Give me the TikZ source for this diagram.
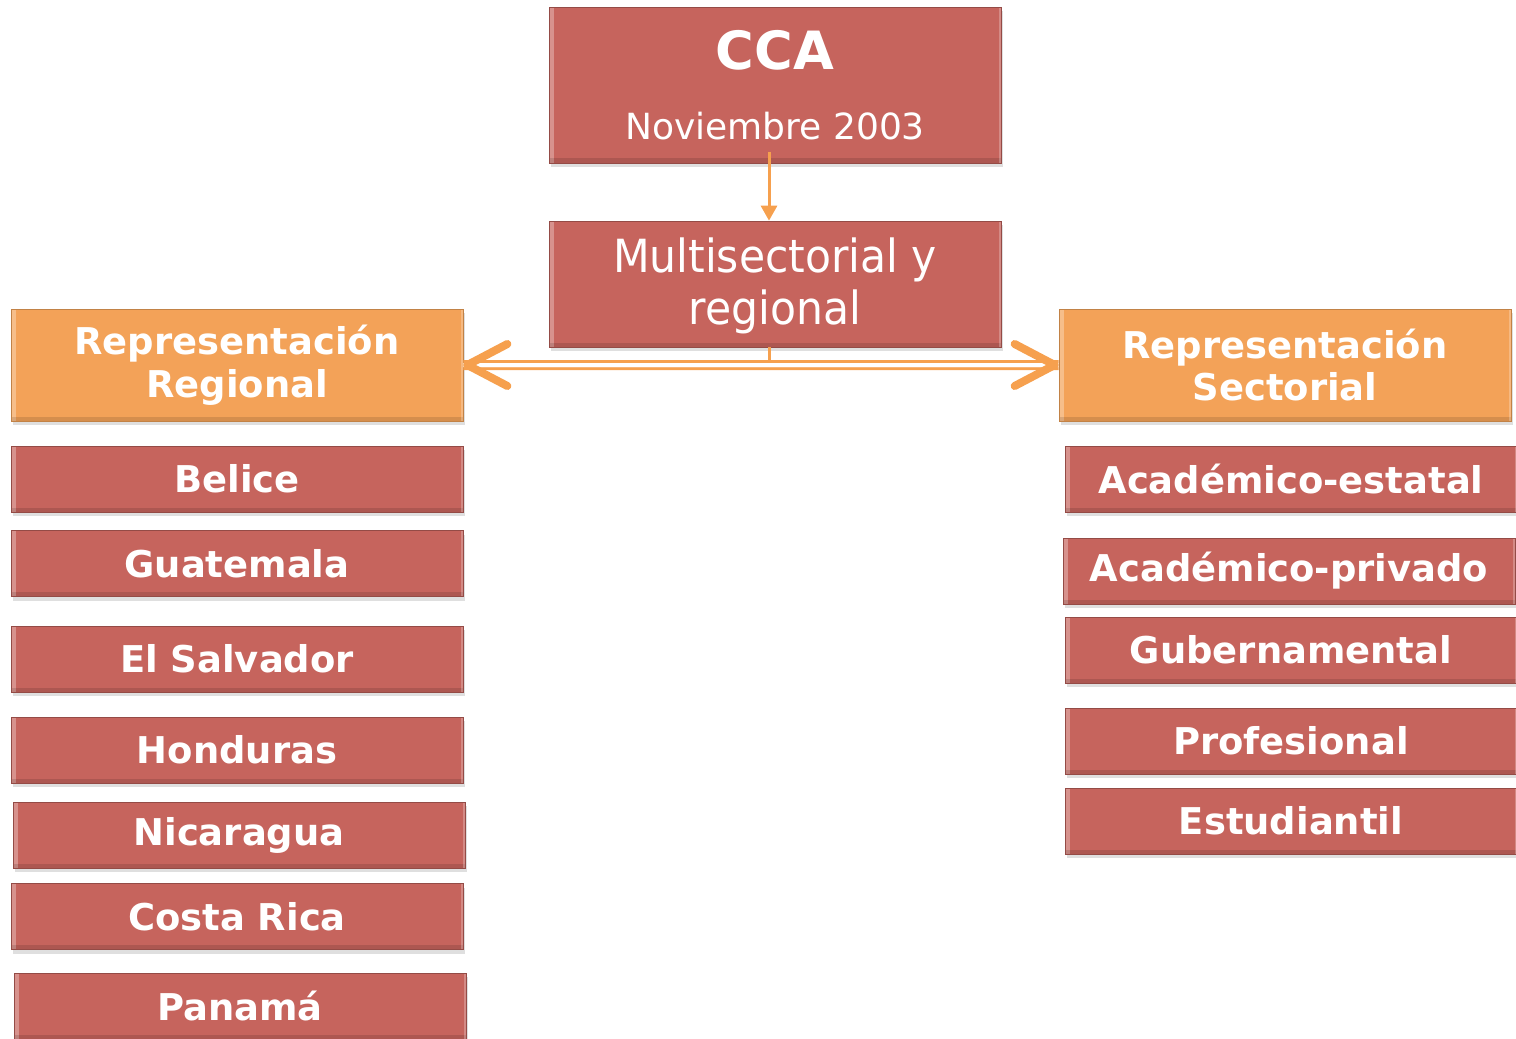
\documentclass[tikz,border=0pt]{standalone}
\usepackage{fontspec}
\setmainfont{DejaVu Sans}
\newfontfamily\narrowsans[FakeStretch=0.93]{DejaVu Sans}
\usetikzlibrary{arrows.meta,calc,positioning,shadows}
\definecolor{boxred}{RGB}{198,100,93}
\definecolor{boxorange}{RGB}{243,162,88}
\definecolor{linkorange}{RGB}{246,160,78}
\tikzset{%
	bevel/.style    = {path picture={
		\fill[white, opacity=0.3] (path picture bounding box.south west) rectangle ([xshift=0.09cm]path picture bounding box.north west);
		\fill[black, opacity=0.12] (path picture bounding box.south west) rectangle ([yshift=0.09cm]path picture bounding box.south east);
		\fill[white, opacity=0.25] ([xshift=-0.05cm]path picture bounding box.south east) rectangle (path picture bounding box.north east);}},
	box/.style      = {draw=boxred!75!black, line width=0.4pt, fill=boxred, text=white, inner sep=0pt, align=center,
		minimum width=9.04cm, drop shadow={shadow xshift=0.03cm, shadow yshift=-0.08cm, opacity=0.25}, bevel},
	head/.style     = {box}, % CCA and Multisectorial
	group/.style    = {box, draw=boxorange!80!black, fill=boxorange, minimum height=2.24cm, font=\bfseries\fontsize{21}{24.4}\selectfont},
	item/.style     = {box, minimum height=1.32cm, font=\bfseries\fontsize{21}{25}\selectfont},
	waypoint/.style = {coordinate},
	link/.style     = {draw=linkorange, line width=0.06cm},
	pair/.style     = {draw=linkorange, line width=0.06cm, double=white, double distance=0.08cm},
	chev/.style     = {draw=white, line width=0.08cm, -{Straight Barb[color=linkorange, line width=0.16cm, length=0.8cm, width=0.84cm, round]}},
}
\begin{document}
\begin{tikzpicture}[node distance = 1.8cm]
	\path[use as bounding box, clip] (0,0) rectangle (30.32,-20.76);
	\node[head, minimum height=3.12cm, font=\fontsize{20.5}{39.5}\selectfont] (cca) at (15.5,-1.7) {{\fontsize{30}{39.5}\selectfont\bfseries CCA}\\Noviembre 2003};
	\node[head, minimum height=2.52cm, font=\narrowsans\fontsize{26}{29.5}\selectfont, text depth=0.1cm] (multi) at (15.5,-5.68) {Multisectorial y\\regional};
	\node[waypoint, below of=multi, node distance=1.62cm, xshift=-0.12cm] (hub) {};
	\node[group] (regional) at (4.74,-7.3) {Representación\\Regional};
	\node[group] (sectorial) at (25.7,-7.3) {Representación\\Sectorial};
	% paises
	\node[item, below of=regional, node distance=2.28cm] (belice) {Belice};
	\node[item, below of=belice, node distance=1.69cm] (guatemala) {Guatemala};
	\node[item, below of=guatemala, node distance=1.91cm] (salvador) {El Salvador};
	\node[item, below of=salvador, node distance=1.82cm] (honduras) {Honduras};
	\node[item, below of=honduras, node distance=1.7cm, xshift=0.04cm] (nicaragua) {Nicaragua};
	\node[item, below of=nicaragua, node distance=1.63cm, xshift=-0.04cm] (costarica) {Costa Rica};
	\node[item, below of=costarica, node distance=1.79cm, xshift=0.06cm] (panama) {Panamá};
	% sectores
	\node[item, below of=sectorial, node distance=2.28cm, xshift=0.12cm] (estatal) {Académico-estatal};
	\node[item, below of=estatal, node distance=1.84cm, xshift=-0.04cm] (privado) {Académico-privado};
	\node[item, below of=privado, node distance=1.58cm, xshift=0.04cm] (gubernamental) {Gubernamental};
	\node[item, below of=gubernamental, node distance=1.82cm] (profesional) {Profesional};
	\node[item, below of=profesional, node distance=1.6cm] (estudiantil) {Estudiantil};
	% conectores
	\draw[link, -{Triangle[length=0.3cm, width=0.32cm]}] ($(cca.south)+(-0.12,0.22)$) -- ($(multi.north)+(-0.12,0)$);
	\draw[link] ($(multi.south)+(-0.12,0)$) -- (hub);
	\draw[pair] (hub) -- (regional.east);
	\draw[pair] (hub) -- (sectorial.west);
	\draw[chev] (hub) -- (regional.east);
	\draw[chev] (hub) -- (sectorial.west);
\end{tikzpicture}
\end{document}
